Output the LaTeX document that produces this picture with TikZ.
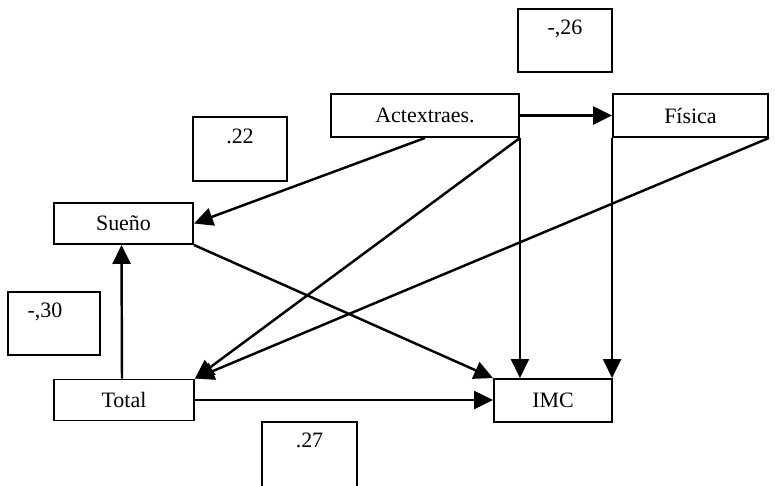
\documentclass[tikz,border=0pt]{standalone}
\usepackage{fontspec}
\setmainfont{Liberation Serif}
\usepackage{tikz}
\usetikzlibrary{arrows.meta, positioning, calc}

\begin{document}
\begin{tikzpicture}[x=0.02cm, y=-0.02cm,
        var/.style={draw, line width=1.1pt, rectangle, inner sep=2pt, font=\fontsize{12.5}{15}\selectfont},
        coef/.style={draw, line width=1.1pt, rectangle, minimum width=1.88cm, minimum height=1.27cm},
        coeflbl/.style={anchor=north, yshift=-0.12cm, font=\fontsize{12.5}{15}\selectfont},
        path/.style={line width=1.4pt, -{Triangle[length=0.38cm, width=0.36cm]}}]

        % Marco de la figura
        \useasboundingbox (0,0) rectangle (775,485);
        \clip (0,0) rectangle (775,485);

        % Variables del modelo
        \node[var, minimum width=3.76cm, minimum height=0.86cm] (act) at (425,115.5) {Actextraes.};
        \node[var, minimum width=3.10cm, minimum height=0.86cm] (fis) at (690.5,115.5) {Física};
        \node[var, minimum width=2.78cm, minimum height=0.82cm] (sue) at (123.5,223.5) {Sueño};
        \node[var, minimum width=2.80cm, minimum height=0.82cm] (tot) at (124,400) {Total};
        \node[var, minimum width=2.36cm, minimum height=0.86cm] (imc) at (553,400.5) {IMC};

        % Coeficientes
        \node[coef, label={[coeflbl]north:-,26}] (c26) at (565,40.5) {};
        \node[coef, label={[coeflbl]north:.22}] (c22) at (240,149) {};
        \node[coef, minimum width=1.84cm, label={[coeflbl, xshift=-0.18cm]north:-,30}] (c30) at (54,323.5) {};
        \node[coef, minimum width=1.90cm, minimum height=1.32cm, label={[coeflbl]north:.27}] (c27) at (309.5,455) {};

        % Relaciones
        \draw[path] (act.east) -- (fis.west);
        \draw[path] (act.south) -- (sue.east);
        \draw[path] (act.south east) -- (tot.north east);
        \draw[path] (act.south east) -- (act.south east |- imc.north);
        \draw[path] (fis.south west) -- (fis.south west |- imc.north);
        \draw[path] (fis.south east) -- (tot.north east);
        \draw[path] (sue.south east) -- (imc.north west);
        \draw[path] ([xshift=-0.04cm]tot.north) -- ([xshift=-0.04cm]sue.south);
        \draw[path] (tot.east) -- (tot.east -| imc.west);

\end{tikzpicture}
\end{document}
